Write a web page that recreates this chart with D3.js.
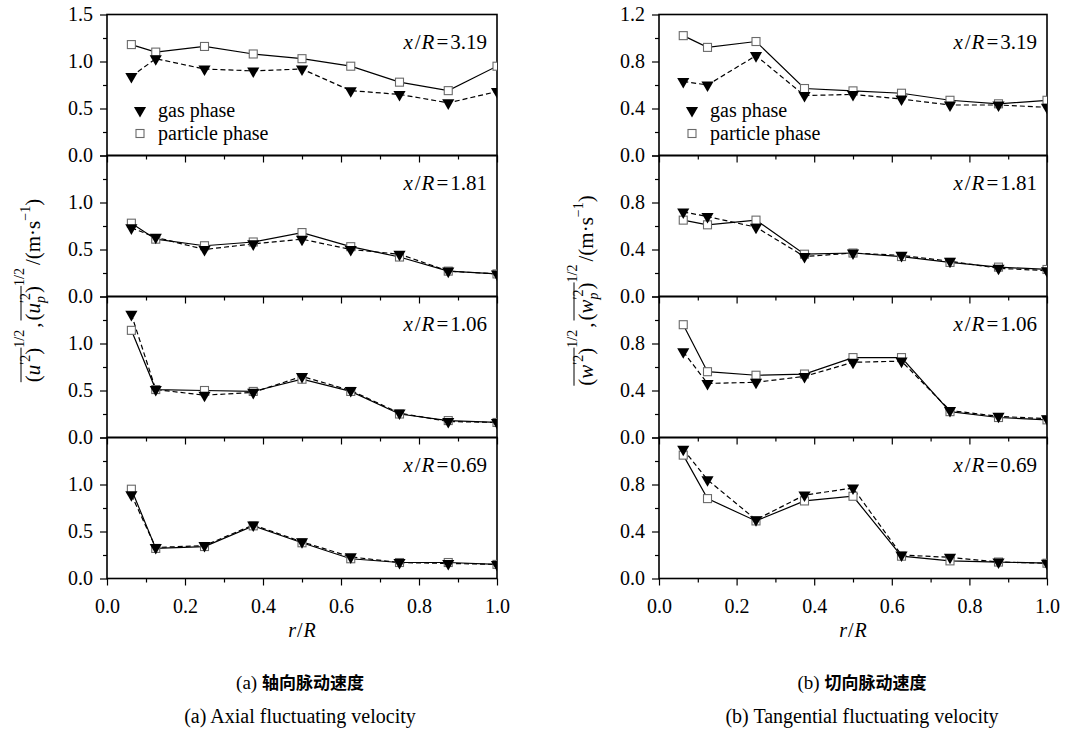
<!DOCTYPE html>
<html>
<head>
<meta charset="utf-8">
<script src="https://cdn.jsdelivr.net/npm/d3@7"></script>
<style>
  body { margin: 0; background: #fff; }
  svg { display: block; }
  text { font-family: "Liberation Serif", "DejaVu Serif", serif; fill: #000; }
</style>
</head>
<body>
<svg id="chart" width="1071" height="731"></svg>
<script>
// radial positions r/R
const rR = [0.0625, 0.125, 0.25, 0.375, 0.5, 0.625, 0.75, 0.875, 1.0];
// axial stations, top panel first
const stations = ['3.19', '1.81', '1.06', '0.69'];

// (a) axial fluctuating velocity
const axialGas = [
  [0.84, 1.03, 0.92, 0.90, 0.92, 0.69, 0.65, 0.56, 0.68],
  [0.73, 0.63, 0.50, 0.56, 0.61, 0.50, 0.45, 0.27, 0.24],
  [1.31, 0.51, 0.45, 0.48, 0.65, 0.50, 0.26, 0.17, 0.16],
  [0.89, 0.33, 0.35, 0.57, 0.39, 0.23, 0.17, 0.16, 0.15]
];
const axialParticle = [
  [1.18, 1.10, 1.16, 1.08, 1.03, 0.95, 0.78, 0.69, 0.95],
  [0.78, 0.61, 0.54, 0.58, 0.68, 0.53, 0.42, 0.27, 0.24],
  [1.14, 0.51, 0.50, 0.49, 0.62, 0.49, 0.25, 0.18, 0.16],
  [0.95, 0.32, 0.34, 0.56, 0.38, 0.21, 0.17, 0.17, 0.15]
];

// (b) tangential fluctuating velocity
const tangGas = [
  [0.63, 0.60, 0.85, 0.51, 0.52, 0.48, 0.43, 0.43, 0.41],
  [0.72, 0.68, 0.59, 0.34, 0.37, 0.35, 0.30, 0.24, 0.22],
  [0.73, 0.46, 0.47, 0.52, 0.64, 0.65, 0.23, 0.18, 0.16],
  [1.10, 0.84, 0.50, 0.71, 0.77, 0.20, 0.18, 0.14, 0.13]
];
const tangParticle = [
  [1.02, 0.92, 0.97, 0.57, 0.55, 0.53, 0.47, 0.44, 0.47],
  [0.65, 0.61, 0.65, 0.36, 0.37, 0.34, 0.29, 0.25, 0.23],
  [0.96, 0.56, 0.53, 0.54, 0.68, 0.68, 0.22, 0.17, 0.15],
  [1.05, 0.68, 0.49, 0.66, 0.70, 0.19, 0.15, 0.14, 0.13]
];

const xMajor = [0, 0.2, 0.4, 0.6, 0.8, 1.0];
const xMinor = [0.1, 0.3, 0.5, 0.7, 0.9];
const yAxialMajor = [0, 0.5, 1.0, 1.5];
const yAxialMinor = [0.25, 0.75, 1.25];
const yTangMajor = [0, 0.4, 0.8, 1.2];
const yTangMinor = [0.2, 0.6, 1.0];

const svg = d3.select('#chart');
svg.append('rect').attr('width', 1071).attr('height', 731).attr('fill', '#fff');

const top0 = 14.5, panelH = 141;
const fmt = d3.format('.1f');
const tri = d3.symbol().type(d3.symbolTriangle).size(64);
const serif = '"Liberation Serif", "DejaVu Serif", serif';

function drawColumn(cfg) {
  const x = d3.scaleLinear().domain([0, 1]).range([cfg.x0, cfg.x1]);
  const col = svg.append('g');

  stations.forEach((st, i) => {
    const top = top0 + i * panelH, bot = top + panelH;
    const y = d3.scaleLinear().domain([0, cfg.ymax]).range([bot, top]);
    const g = col.append('g');
    const clipId = `clip-${cfg.id}-${i}`;
    g.append('clipPath').attr('id', clipId)
      .append('rect').attr('x', cfg.x0).attr('y', top).attr('width', cfg.x1 - cfg.x0).attr('height', panelH);

    // y axis
    const ya = g.append('g').attr('transform', `translate(${cfg.x0},0)`)
      .call(d3.axisLeft(y).tickValues(cfg.yMajor).tickFormat(fmt).tickSizeInner(7).tickSizeOuter(0).tickPadding(7));
    ya.attr('font-family', serif);
    ya.selectAll('text').style('font-size', '20px').style('font-family', serif)
      .filter(d => i > 0 && d === cfg.ymax).remove();
    ya.select('.domain').remove();
    const ym = g.append('g').attr('transform', `translate(${cfg.x0},0)`)
      .call(d3.axisLeft(y).tickValues(cfg.yMinor).tickFormat('').tickSizeInner(4).tickSizeOuter(0));
    ym.select('.domain').remove();

    // x axis
    const xa = g.append('g').attr('transform', `translate(0,${bot})`)
      .call(d3.axisBottom(x).tickValues(xMajor).tickFormat(fmt).tickSizeInner(7).tickSizeOuter(0).tickPadding(13));
    xa.attr('font-family', serif);
    xa.select('.domain').remove();
    xa.selectAll('text').style('font-size', '20px').style('font-family', serif);
    if (i < stations.length - 1) xa.selectAll('text').remove();
    const xm = g.append('g').attr('transform', `translate(0,${bot})`)
      .call(d3.axisBottom(x).tickValues(xMinor).tickFormat('').tickSizeInner(4).tickSizeOuter(0));
    xm.select('.domain').remove();
    g.selectAll('.tick line').attr('stroke-width', 1.2);

    // frame
    g.append('rect').attr('x', cfg.x0).attr('y', top).attr('width', cfg.x1 - cfg.x0).attr('height', panelH)
      .attr('fill', 'none').attr('stroke', '#000').attr('stroke-width', 1.6);

    const plot = g.append('g').attr('clip-path', `url(#${clipId})`);
    const line = d3.line().x((d, k) => x(rR[k])).y(d => y(d));
    const part = cfg.particle[i], gas = cfg.gas[i];

    plot.append('path').datum(part).attr('d', line)
      .attr('fill', 'none').attr('stroke', '#000').attr('stroke-width', 1.2);
    plot.append('path').datum(gas).attr('d', line)
      .attr('fill', 'none').attr('stroke', '#000').attr('stroke-width', 1.2).attr('stroke-dasharray', '5,3');

    plot.selectAll('rect.p').data(part).enter().append('rect').attr('class', 'p')
      .attr('x', (d, k) => x(rR[k]) - 4).attr('y', d => y(d) - 4)
      .attr('width', 8).attr('height', 8)
      .attr('fill', '#fff').attr('stroke', '#6a6a6a').attr('stroke-width', 1.1);
    plot.selectAll('path.g').data(gas).enter().append('path').attr('class', 'g')
      .attr('d', tri)
      .attr('transform', (d, k) => `translate(${x(rR[k])},${y(d)}) rotate(180)`)
      .attr('fill', '#000');

    // station label
    const t = g.append('text').attr('x', cfg.x1 - 10).attr('y', top + 34)
      .attr('text-anchor', 'end').style('font-size', '21px');
    t.append('tspan').attr('font-style', 'italic').text('x');
    t.append('tspan').attr('dx', 2).text('/');
    t.append('tspan').attr('dx', 1).attr('font-style', 'italic').text('R');
    t.append('tspan').attr('dx', 2).text('=');
    t.append('tspan').attr('dx', 2).text(st);

    // legend in top panel
    if (i === 0) {
      const lx = cfg.x0 + 33;
      g.append('path').attr('d', tri).attr('transform', `translate(${lx},${top + 96}) rotate(180)`).attr('fill', '#000');
      g.append('rect').attr('x', lx - 4).attr('y', top + 115).attr('width', 8).attr('height', 8)
        .attr('fill', '#fff').attr('stroke', '#6a6a6a').attr('stroke-width', 1.1);
      g.append('text').attr('x', lx + 18).attr('y', top + 102).style('font-size', '20px').text('gas phase');
      g.append('text').attr('x', lx + 18).attr('y', top + 125).style('font-size', '20px').text('particle phase');
    }
  });

  // x title
  const xt = col.append('text').attr('x', (cfg.x0 + cfg.x1) / 2).attr('y', 637)
    .attr('text-anchor', 'middle').style('font-size', '20px');
  xt.append('tspan').attr('font-style', 'italic').text('r');
  xt.append('tspan').attr('dx', 1).text('/');
  xt.append('tspan').attr('dx', 1).attr('font-style', 'italic').text('R');

  // y title, rotated, laid out piece by piece
  const yl = col.append('g').attr('transform', `translate(${cfg.labelX},${top0 + 2 * panelH - 6}) rotate(-90)`);
  const fs = 21, sfs = 14;
  const pieces = [
    { s: '(', o: 1 }, { s: cfg.sym, it: 1, o: 1 }, { s: '′2', sup: 1, o: 1 }, { s: ')', o: 1 },
    { s: '1/2', sup: 2 }, { s: ',', gap: 2 },
    { s: '(', o: 2, gap: 2 }, { s: cfg.sym, it: 1, o: 2 }, { s: '′2', sup: 1, o: 2, mark: 1 }, { s: 'p', sub: 1, it: 1, o: 2, back: 1 },
    { s: ')', o: 2 }, { s: '1/2', sup: 2 }, { s: ' /(m·s', gap: 3 }, { s: '−1', sup: 1 }, { s: ')' }
  ];
  let cx = 0, markX = 0, markW = 0;
  const spans = {};
  pieces.forEach(p => {
    let px = cx + (p.gap || 0);
    if (p.back) px = markX;
    const dy = p.sup === 2 ? -16 : p.sup ? -10 : p.sub ? 5 : 0;
    const el = yl.append('text').attr('x', px).attr('y', dy)
      .style('font-size', (p.sup || p.sub ? sfs : fs) + 'px')
      .attr('font-style', p.it ? 'italic' : null).text(p.s);
    const w = el.node().getComputedTextLength();
    if (p.mark) { markX = px; markW = w; }
    if (p.back) cx = Math.max(markX + markW, px + w); else cx = px + w;
    if (p.o) {
      if (!spans[p.o]) spans[p.o] = [px, px + w];
      spans[p.o][1] = Math.max(spans[p.o][1], px + w);
    }
  });
  Object.values(spans).forEach(s => {
    yl.append('line').attr('x1', s[0]).attr('x2', s[1]).attr('y1', -19).attr('y2', -19)
      .attr('stroke', '#000').attr('stroke-width', 1);
  });
  yl.selectAll('text, line').attr('transform', `translate(${-cx / 2},0)`);

  // captions
  const cap1 = col.append('text').attr('x', cfg.capX).attr('y', 689).attr('text-anchor', 'middle').style('font-size', '19px');
  cap1.append('tspan').text(cfg.tag + ' ');
  cap1.append('tspan').style('font-family', '"Noto Sans CJK SC", sans-serif').style('font-size', '17px')
    .style('font-weight', 'bold').text(cfg.zh);
  col.append('text').attr('x', cfg.capX).attr('y', 723).attr('text-anchor', 'middle').style('font-size', '20px')
    .text(cfg.tag + ' ' + cfg.en);
}

drawColumn({
  id: 'a', x0: 107, x1: 497, ymax: 1.5, yMajor: yAxialMajor, yMinor: yAxialMinor,
  gas: axialGas, particle: axialParticle, labelX: 40, sym: 'u',
  capX: 300, tag: '(a)', zh: '轴向脉动速度', en: 'Axial fluctuating velocity'
});
drawColumn({
  id: 'b', x0: 659, x1: 1047, ymax: 1.2, yMajor: yTangMajor, yMinor: yTangMinor,
  gas: tangGas, particle: tangParticle, labelX: 593, sym: 'w',
  capX: 862, tag: '(b)', zh: '切向脉动速度', en: 'Tangential fluctuating velocity'
});
</script>
</body>
</html>
